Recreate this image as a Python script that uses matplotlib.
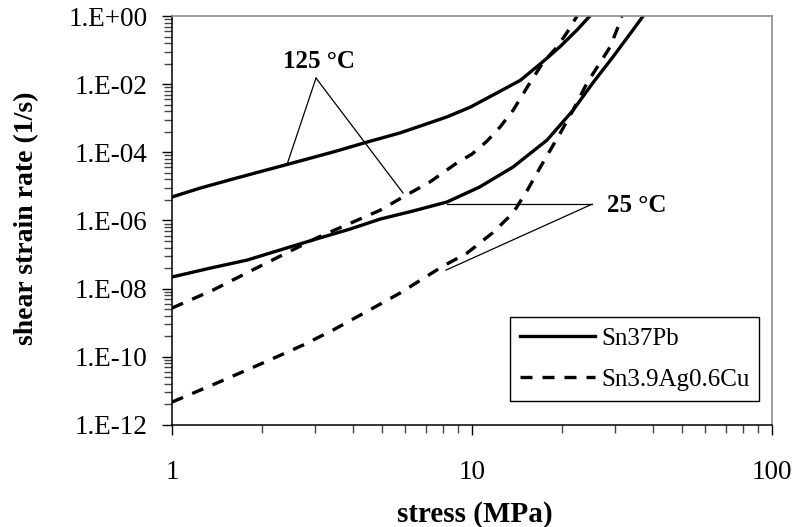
import numpy as np
import matplotlib
matplotlib.use("Agg")
import matplotlib.pyplot as plt
from matplotlib.ticker import FixedLocator, FuncFormatter, NullFormatter

plt.rcParams['font.family'] = ['Liberation Serif', 'DejaVu Serif']

# Sn37Pb, 125 °C
pb125_stress = [1.00, 1.24, 1.60, 2.44, 3.44, 4.47, 5.75, 6.87, 8.26, 9.85, 12.1,
                14.5, 17.2, 19.6, 22.4, 24.7]
pb125_rate = [4.9e-6, 8.9e-6, 1.66e-5, 4.5e-5, 1.02e-4, 2.0e-4, 3.7e-4, 6.3e-4,
              1.1e-3, 2.1e-3, 5.5e-3, 1.3e-2, 4.5e-2, 0.123, 0.39, 1.0]

# Sn37Pb, 25 °C
pb25_stress = [1.00, 1.34, 1.78, 2.29, 3.04, 3.92, 4.94, 6.36, 8.26, 10.6, 13.7,
               17.8, 21.7, 25.3, 29.5, 34.4, 37.2]
pb25_rate = [2.2e-8, 4.0e-8, 6.9e-8, 1.36e-7, 2.9e-7, 5.6e-7, 1.1e-6, 1.9e-6,
             3.5e-6, 9.6e-6, 3.7e-5, 2.3e-4, 1.7e-3, 1.1e-2, 6.3e-2, 0.39, 1.0]

# Sn3.9Ag0.6Cu, 125 °C
sac125_stress = [1.00, 1.37, 1.95, 3.04, 4.94, 5.89, 7.24, 8.91, 10.0, 11.2, 12.4,
                 13.7, 15.3, 17.2, 19.2, 20.7, 22.4]
sac125_rate = [2.7e-9, 9.1e-9, 4.4e-8, 3.1e-7, 2.0e-6, 4.9e-6, 1.35e-5, 4.9e-5,
               8.9e-5, 2.1e-4, 5.5e-4, 1.7e-3, 8.3e-3, 4.2e-2, 0.123, 0.32, 1.0]

# Sn3.9Ag0.6Cu, 25 °C
sac25_stress = [1.00, 1.41, 2.01, 2.73, 3.44, 4.68, 5.75, 7.94, 9.62, 11.7, 13.7,
                15.3, 16.9, 19.7, 21.7, 24.2, 26.7, 28.8, 30.4, 31.6]
sac25_rate = [4.7e-12, 1.7e-11, 6.6e-11, 2.2e-10, 6.1e-10, 2.7e-9, 7.4e-9, 4.4e-8,
              1.1e-7, 4.3e-7, 1.66e-6, 7.8e-6, 3.7e-5, 3.7e-4, 1.7e-3, 1.1e-2,
              4.2e-2, 0.12, 0.39, 1.0]

alloy_labels = ["Sn37Pb", "Sn3.9Ag0.6Cu"]
temp_labels = ["125 °C", "25 °C"]
x_tick_values = [1, 10, 100]
y_tick_exponents = list(range(-12, 1, 2))

fig = plt.figure(figsize=(7.99, 5.27), dpi=100)
ax = fig.add_axes([172 / 799, 1 - 425 / 527, 600 / 799, 409 / 527])

lw = 2.4
dash = (3.6, 3.0)
ax.plot(pb125_stress, pb125_rate, color='black', lw=lw, label=alloy_labels[0])
ax.plot(pb25_stress, pb25_rate, color='black', lw=lw)
ax.plot(sac125_stress, sac125_rate, color='black', lw=lw, dashes=dash,
        label=alloy_labels[1])
ax.plot(sac25_stress, sac25_rate, color='black', lw=lw, dashes=dash)

ax.set_xscale('log')
ax.set_yscale('log')
ax.set_xlim(1, 100)
ax.set_ylim(1e-12, 1)

# x axis ticks
ax.xaxis.set_major_locator(FixedLocator(x_tick_values))
ax.xaxis.set_major_formatter(FuncFormatter(lambda v, p: f"{v:g}"))
x_minor = [m * d for d in (1, 10) for m in range(2, 10)]
ax.xaxis.set_minor_locator(FixedLocator(x_minor))
ax.xaxis.set_minor_formatter(NullFormatter())

# y axis ticks: major every two decades, minor at k^2 multiples of the lower major
y_major = [10.0 ** e for e in y_tick_exponents]
ax.yaxis.set_major_locator(FixedLocator(y_major))
ax.yaxis.set_major_formatter(
    FuncFormatter(lambda v, p: f"1.E{int(round(np.log10(v))):+03d}"))
y_minor = [10.0 ** e * k * k for e in y_tick_exponents[:-1] for k in range(2, 10)]
ax.yaxis.set_minor_locator(FixedLocator(y_minor))
ax.yaxis.set_minor_formatter(NullFormatter())

ax.tick_params(axis='both', which='major', direction='out', length=7.5, width=1.0,
               color='black', labelsize=19.5)
ax.tick_params(axis='both', which='minor', direction='out', length=5.5, width=1.0,
               color='#444444')
ax.tick_params(axis='x', which='major', pad=18)
ax.tick_params(axis='y', which='major', pad=10)

for side in ('left', 'bottom'):
    ax.spines[side].set_color('black')
    ax.spines[side].set_linewidth(1.1)
for side in ('top', 'right'):
    ax.spines[side].set_color('#8c8c8c')
    ax.spines[side].set_linewidth(1.2)

ax.set_xlabel("stress (MPa)", fontsize=21, fontweight='bold')
ax.set_ylabel("shear strain rate (1/s)", fontsize=20, fontweight='bold')
ax.xaxis.set_label_coords(0.505, -0.185)
ax.yaxis.set_label_coords(-0.222, 0.506)

# temperature call-outs
thin = dict(color='black', lw=0.9)
ax.plot([2.42, 3.02], [4.5e-5, 0.0151], **thin)
ax.plot([3.02, 5.89], [0.0151, 6.4e-6], **thin)
ax.text(3.09, 0.045, temp_labels[0], fontsize=18, fontweight='bold',
        ha='center', va='center')

ax.plot([8.26, 25.1], [3.0e-6, 3.0e-6], **thin)
ax.plot([8.19, 25.1], [3.5e-8, 3.0e-6], **thin)
ax.text(28.2, 2.8e-6, temp_labels[1], fontsize=18, fontweight='bold',
        ha='left', va='center')

leg = ax.legend(loc='upper left', bbox_to_anchor=(0.563, 0.264), fontsize=18,
                frameon=True, fancybox=False, framealpha=1, edgecolor='black',
                borderaxespad=0, borderpad=0.4, labelspacing=0.75,
                handlelength=3.0, handletextpad=0.25)
leg.get_frame().set_linewidth(1.0)

fig.savefig("out.png", dpi=100)
